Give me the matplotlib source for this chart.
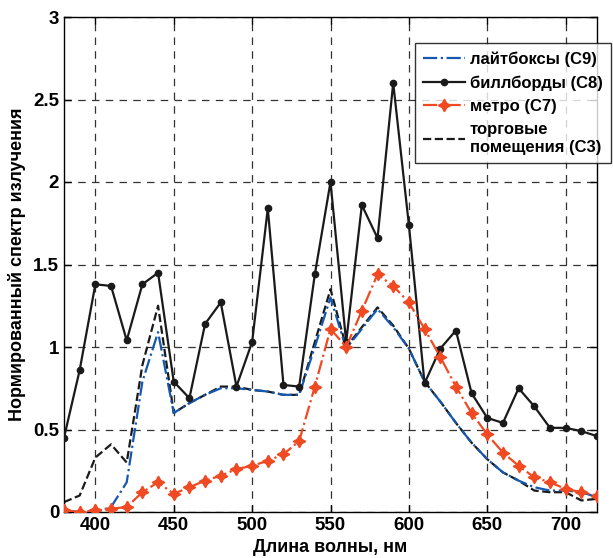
import matplotlib
matplotlib.use("Agg")
import matplotlib.pyplot as plt
import numpy as np

plt.rcParams['font.family'] = ['Liberation Sans', 'DejaVu Sans']
plt.rcParams['font.weight'] = 'bold'

wavelength = list(range(380, 721, 10))

lightbox_c9 = [0.01, 0.00, 0.00, 0.03, 0.18, 0.79, 1.09, 0.60, 0.66, 0.71, 0.75, 0.75, 0.74, 0.73, 0.71, 0.71,
               1.00, 1.30, 0.99, 1.11, 1.23, 1.12, 0.99, 0.79, 0.67, 0.54, 0.42, 0.32, 0.24, 0.19,
               0.15, 0.13, 0.13, 0.12, 0.09]
billboard_c8 = [0.45, 0.86, 1.38, 1.37, 1.04, 1.38, 1.45, 0.79, 0.69, 1.14, 1.27, 0.76, 1.03, 1.84, 0.77, 0.76,
                1.44, 2.00, 1.03, 1.86, 1.66, 2.60, 1.74, 0.78, 0.99, 1.10, 0.72, 0.57, 0.54, 0.75,
                0.64, 0.51, 0.51, 0.49, 0.46]
metro_c7 = [0.01, 0.00, 0.01, 0.02, 0.03, 0.12, 0.18, 0.11, 0.15, 0.19, 0.22, 0.26, 0.28, 0.31, 0.35, 0.43,
            0.76, 1.11, 1.00, 1.22, 1.44, 1.37, 1.27, 1.11, 0.94, 0.76, 0.60, 0.47, 0.36, 0.28,
            0.21, 0.18, 0.14, 0.12, 0.10]
retail_c3 = [0.06, 0.10, 0.33, 0.41, 0.30, 0.89, 1.25, 0.60, 0.66, 0.71, 0.76, 0.76, 0.74, 0.73, 0.71, 0.71,
             1.03, 1.35, 1.00, 1.12, 1.24, 1.13, 0.99, 0.79, 0.67, 0.54, 0.42, 0.32, 0.24, 0.19,
             0.13, 0.12, 0.12, 0.07, 0.08]

labels = ['лайтбоксы (С9)', 'биллборды (С8)', 'метро (С7)', 'торговые\nпомещения (С3)']

fig = plt.figure(figsize=(6.13, 5.58), dpi=100)
ax = fig.add_axes([64/613, 46/558, (597-64)/613, (512-17)/558])

ax.plot(wavelength, lightbox_c9, color='#1458b0', linestyle='-.', lw=1.6, label=labels[0], zorder=3)
ax.plot(wavelength, billboard_c8, color='#1a1a1a', linestyle='-', lw=1.6, marker='o', ms=4.5,
        label=labels[1], zorder=4)
ax.plot(wavelength, metro_c7, color='#f04a22', linestyle='-.', lw=1.6, marker=(4, 1, 0), ms=9,
        label=labels[2], zorder=5)
ax.plot(wavelength, retail_c3, color='#1a1a1a', linestyle='--', lw=1.6, label=labels[3], zorder=2)

ax.set_xlim(380, 720)
ax.set_ylim(0, 3)
ax.set_xticks([400, 450, 500, 550, 600, 650, 700])
ax.set_yticks([0, 0.5, 1, 1.5, 2, 2.5, 3])
ax.set_yticklabels(['0', '0.5', '1', '1.5', '2', '2.5', '3'])
ax.tick_params(direction='in', labelsize=13.5, length=5, width=1, top=True, right=True)
for lab in ax.get_xticklabels() + ax.get_yticklabels():
    lab.set_fontweight('bold')
ax.grid(True, color='#333333', linestyle=(0, (6, 5)), lw=0.9)
for s in ax.spines.values():
    s.set_linewidth(1.0)

ax.set_xlabel('Длина волны, нм', fontsize=13, fontweight='bold', labelpad=4)
ax.set_ylabel('Нормированный спектр излучения', fontsize=13, fontweight='bold', labelpad=5)

leg = fig.legend(loc='upper left', bbox_to_anchor=(415/613, 1 - 43/558), fontsize=12,
                 frameon=True, fancybox=False, edgecolor='black', borderpad=0.5, labelspacing=0.5,
                 handlelength=2.5, handletextpad=0.3, borderaxespad=0)
leg.get_frame().set_linewidth(1.0)
for t in leg.get_texts():
    t.set_fontweight('bold')

fig.savefig('out.png', dpi=100)
